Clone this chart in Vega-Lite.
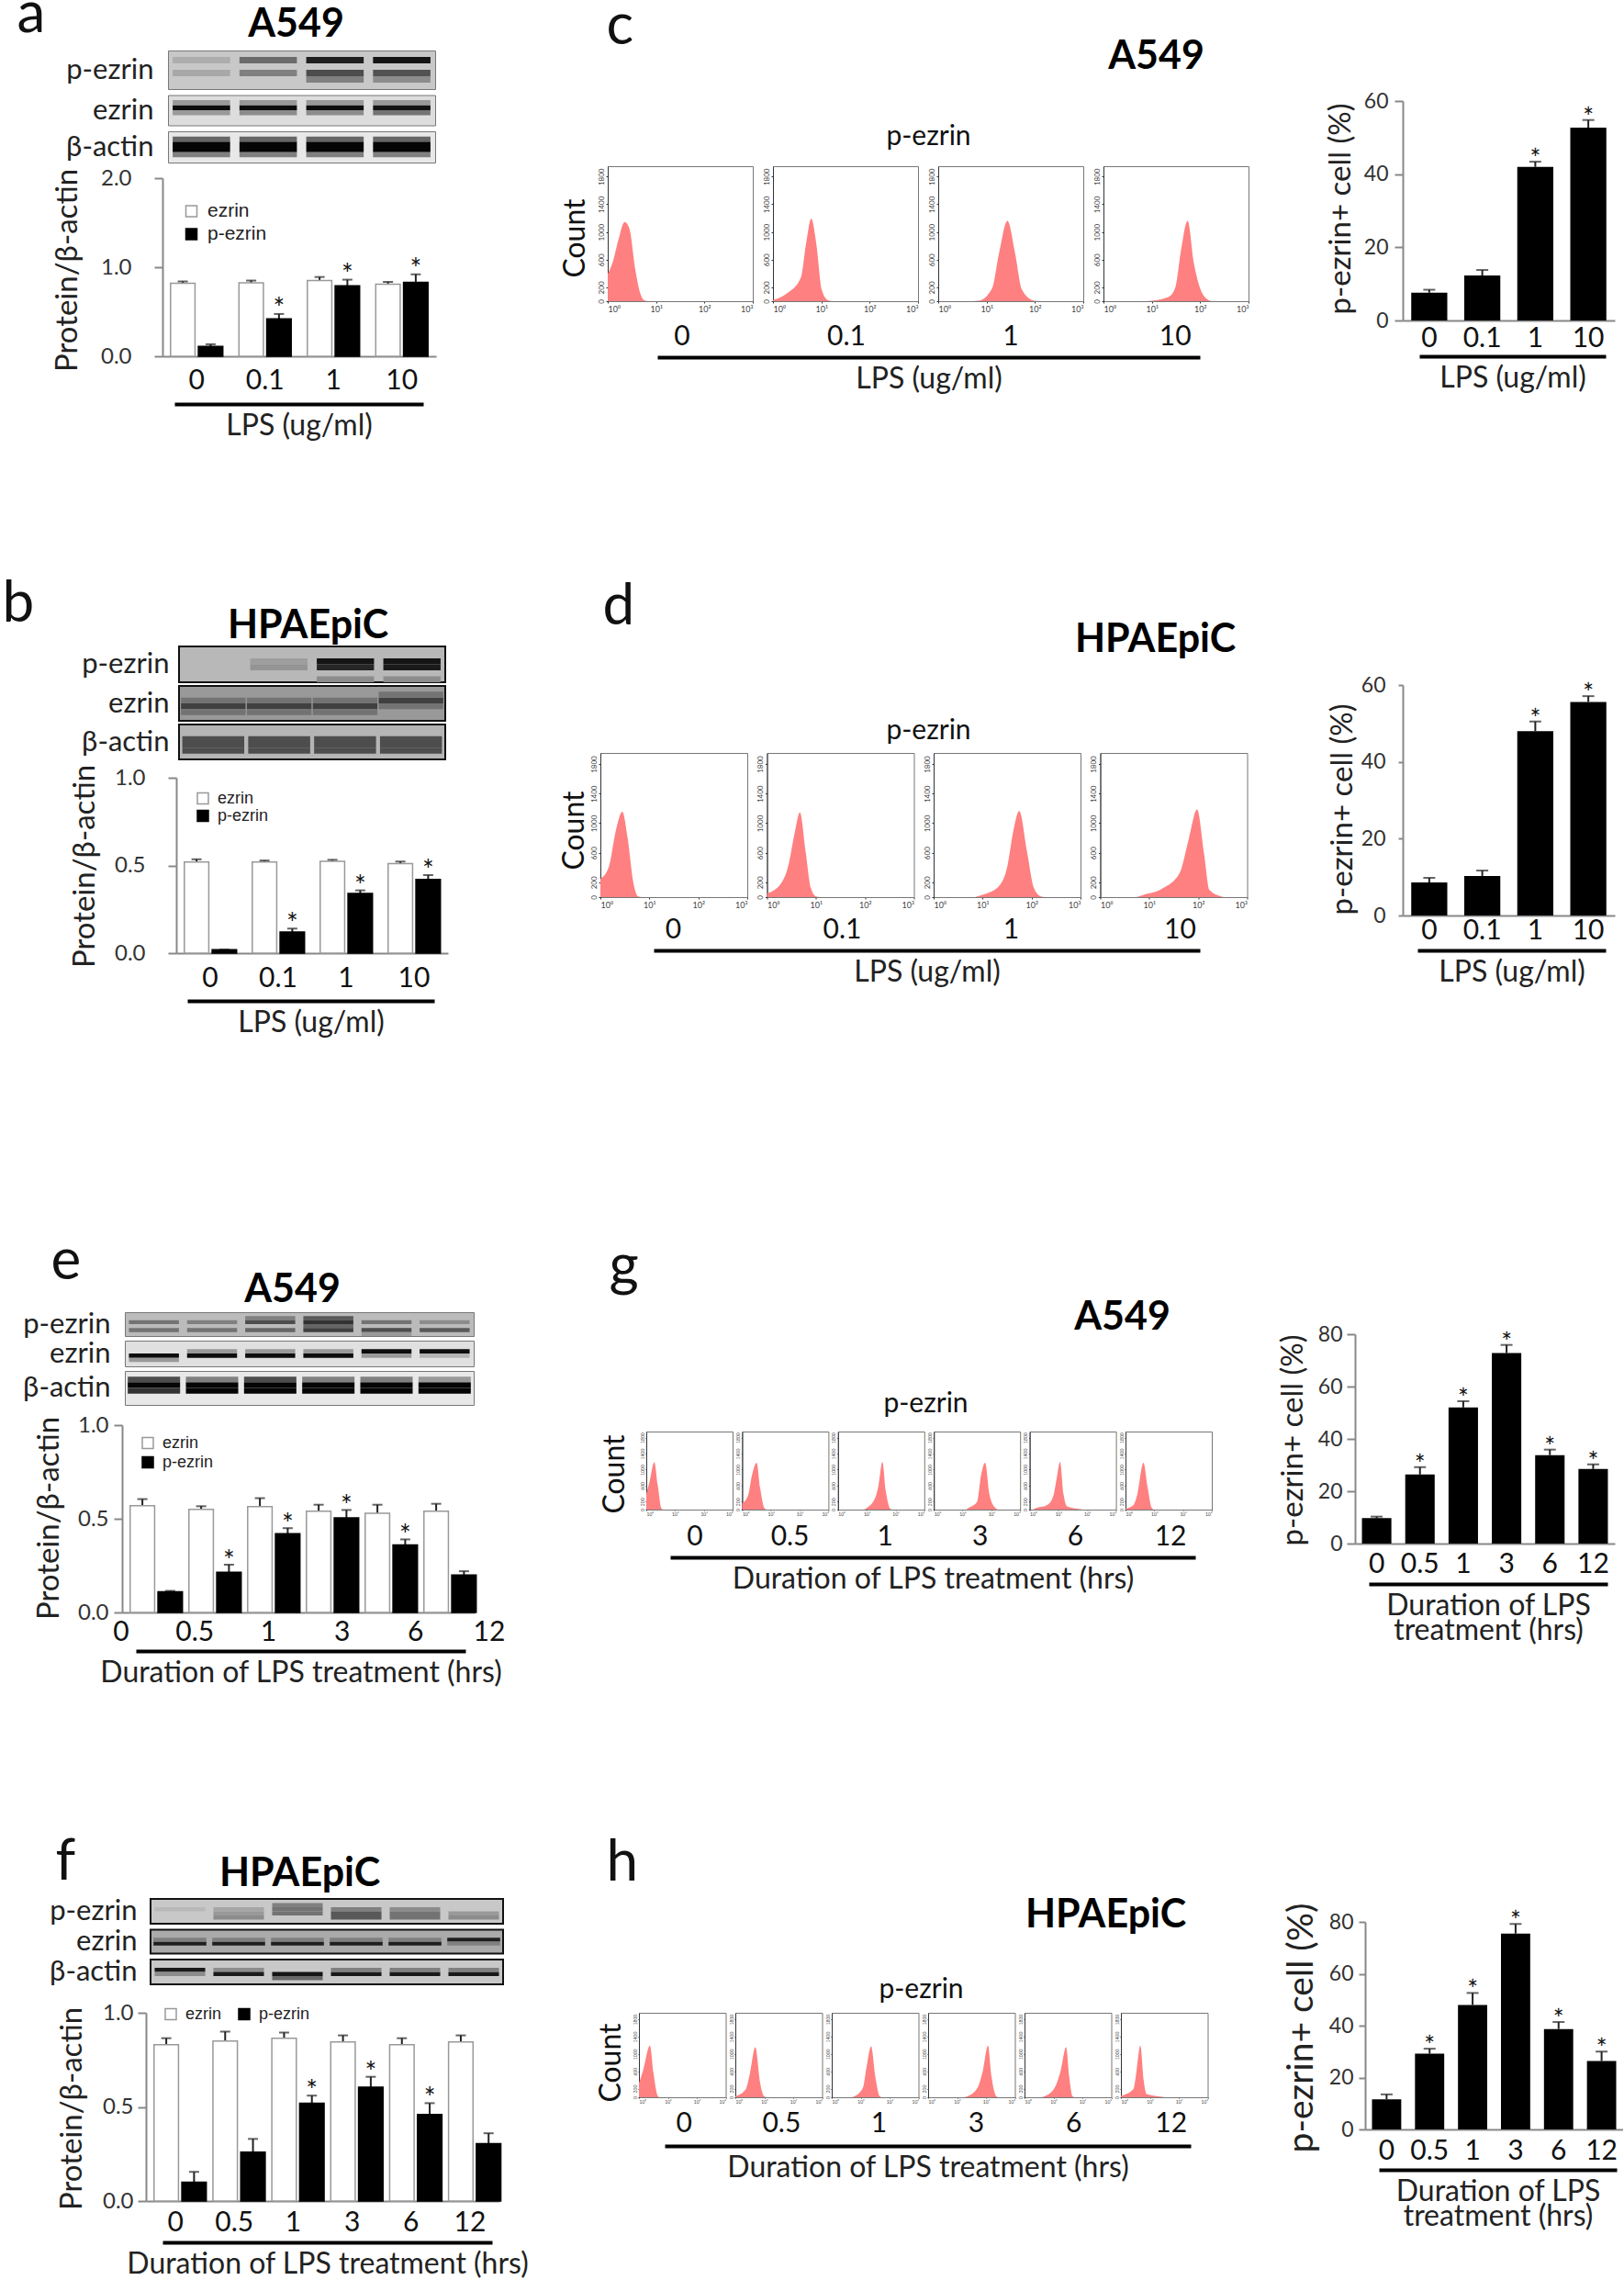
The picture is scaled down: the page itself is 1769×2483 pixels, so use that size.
{"$schema":"https://vega.github.io/schema/vega-lite/v6.json","padding":{"top":-16,"left":0,"right":0,"bottom":0},"background":"white","bounds":"flush",
"resolve":{"scale":{"fill":"independent","stroke":"independent"},"legend":{"fill":"independent"}},
"config":{"concat":{"spacing":0},"view":{"stroke":null},"font":"Lato",
"scale":{"offsetBandPaddingInner":0.12,"offsetBandPaddingOuter":0.29},
"axis":{"grid":false,"labelFont":"Lato","titleFont":"Lato","titleFontWeight":"normal"},
"axisY":{"domainColor":"#888","domainWidth":2,"tickColor":"#888","tickWidth":2,"tickSize":9,"labelFontSize":24,"labelColor":"#333","titleFontSize":33,"titleColor":"#222","titleBaseline":"middle"},
"axisXBand":{"ticks":false,"domainColor":"#888","domainWidth":2,"labelFontSize":30,"labelColor":"#111","labelAngle":0},
"axisXPoint":{"labels":false,"ticks":false,"domainColor":"#000","domainWidth":4,"titleFontSize":32,"titleColor":"#222","titlePadding":8,"titleLineHeight":27},
"axisYBand":{"labels":false,"ticks":false,"domain":false,"titleAngle":0,"titleAlign":"right","titleBaseline":"middle","titleFontSize":31,"titleColor":"#222"},
"axisXQuantitative":{"domainColor":"#333","tickColor":"#333","tickSize":2,"labelColor":"#444"},
"legend":{"orient":"none","symbolType":"square","symbolSize":144,"symbolStrokeWidth":1.5,"symbolStrokeColor":"#666","labelFont":"Liberation Sans","labelFontSize":18,"labelColor":"#222","labelOffset":7,"padding":0},
"rule":{"color":"#222","strokeWidth":2},"tick":{"color":"#222","thickness":2},
"text":{"fontSize":30,"color":"#111","baseline":"middle"}},
"datasets":{"n":[],
"dl":[{"d":"0"},{"d":"0.1"},{"d":"1"},{"d":"10"}],
"dt":[{"d":"0"},{"d":"0.5"},{"d":"1"},{"d":"3"},{"d":"6"},{"d":"12"}],
"ba":[{"d":"0","s":"ezrin","v":0.82,"h":0.84,"k":""},{"d":"0","s":"p-ezrin","v":0.11,"h":0.135,"k":""},{"d":"0.1","s":"ezrin","v":0.825,"h":0.85,"k":""},{"d":"0.1","s":"p-ezrin","v":0.42,"h":0.475,"k":"*"},{"d":"1","s":"ezrin","v":0.85,"h":0.89,"k":""},{"d":"1","s":"p-ezrin","v":0.79,"h":0.86,"k":"*"},{"d":"10","s":"ezrin","v":0.81,"h":0.835,"k":""},{"d":"10","s":"p-ezrin","v":0.83,"h":0.92,"k":"*"}],
"bb":[{"d":"0","s":"ezrin","v":0.52,"h":0.535,"k":""},{"d":"0","s":"p-ezrin","v":0.02,"h":0.02,"k":""},{"d":"0.1","s":"ezrin","v":0.52,"h":0.528,"k":""},{"d":"0.1","s":"p-ezrin","v":0.12,"h":0.14,"k":"*"},{"d":"1","s":"ezrin","v":0.523,"h":0.532,"k":""},{"d":"1","s":"p-ezrin","v":0.34,"h":0.358,"k":"*"},{"d":"10","s":"ezrin","v":0.51,"h":0.522,"k":""},{"d":"10","s":"p-ezrin","v":0.42,"h":0.445,"k":"*"}],
"be":[{"d":"0","s":"ezrin","v":0.57,"h":0.605,"k":""},{"d":"0","s":"p-ezrin","v":0.11,"h":0.115,"k":""},{"d":"0.5","s":"ezrin","v":0.55,"h":0.567,"k":""},{"d":"0.5","s":"p-ezrin","v":0.215,"h":0.255,"k":"*"},{"d":"1","s":"ezrin","v":0.565,"h":0.61,"k":""},{"d":"1","s":"p-ezrin","v":0.42,"h":0.45,"k":"*"},{"d":"3","s":"ezrin","v":0.54,"h":0.575,"k":""},{"d":"3","s":"p-ezrin","v":0.505,"h":0.547,"k":"*"},{"d":"6","s":"ezrin","v":0.53,"h":0.575,"k":""},{"d":"6","s":"p-ezrin","v":0.36,"h":0.39,"k":"*"},{"d":"12","s":"ezrin","v":0.54,"h":0.58,"k":""},{"d":"12","s":"p-ezrin","v":0.2,"h":0.22,"k":""}],
"bf":[{"d":"0","s":"ezrin","v":0.83,"h":0.865,"k":""},{"d":"0","s":"p-ezrin","v":0.1,"h":0.155,"k":""},{"d":"0.5","s":"ezrin","v":0.85,"h":0.9,"k":""},{"d":"0.5","s":"p-ezrin","v":0.26,"h":0.33,"k":""},{"d":"1","s":"ezrin","v":0.865,"h":0.895,"k":""},{"d":"1","s":"p-ezrin","v":0.52,"h":0.56,"k":"*"},{"d":"3","s":"ezrin","v":0.845,"h":0.88,"k":""},{"d":"3","s":"p-ezrin","v":0.605,"h":0.66,"k":"*"},{"d":"6","s":"ezrin","v":0.83,"h":0.865,"k":""},{"d":"6","s":"p-ezrin","v":0.46,"h":0.52,"k":"*"},{"d":"12","s":"ezrin","v":0.845,"h":0.88,"k":""},{"d":"12","s":"p-ezrin","v":0.305,"h":0.36,"k":""}],
"bc":[{"d":"0","v":7.6,"h":8.4,"k":""},{"d":"0.1","v":12.3,"h":13.8,"k":""},{"d":"1","v":42,"h":43.4,"k":"*"},{"d":"10","v":52.7,"h":54.8,"k":"*"}],
"bd":[{"d":"0","v":8.6,"h":9.8,"k":""},{"d":"0.1","v":10.3,"h":11.7,"k":""},{"d":"1","v":48,"h":50.5,"k":"*"},{"d":"10","v":55.6,"h":57.1,"k":"*"}],
"bg":[{"d":"0","v":9.7,"h":10.3,"k":""},{"d":"0.5","v":26.4,"h":29.2,"k":"*"},{"d":"1","v":52,"h":54.4,"k":"*"},{"d":"3","v":72.8,"h":75.9,"k":"*"},{"d":"6","v":33.8,"h":35.9,"k":"*"},{"d":"12","v":28.5,"h":30.3,"k":"*"}],
"bh":[{"d":"0","v":11.6,"h":13.5,"k":""},{"d":"0.5","v":29.2,"h":31.1,"k":"*"},{"d":"1","v":48,"h":52.6,"k":"*"},{"d":"3","v":75.5,"h":79.2,"k":"*"},{"d":"6","v":38.7,"h":41.4,"k":"*"},{"d":"12","v":26.4,"h":30,"k":"*"}],
"hc":[{"d":"0","x":1,"y":395},{"d":"0","x":1.25,"y":550},{"d":"0","x":1.67,"y":893},{"d":"0","x":2.24,"y":1143},{"d":"0","x":2.8,"y":1050},{"d":"0","x":3.75,"y":440},{"d":"0","x":4.68,"y":120},{"d":"0","x":5.8,"y":10},{"d":"0","x":7,"y":0},{"d":"0.1","x":1,"y":15},{"d":"0.1","x":2,"y":118},{"d":"0.1","x":3.8,"y":345},{"d":"0.1","x":4.8,"y":820},{"d":"0.1","x":6.2,"y":1195},{"d":"0.1","x":7.9,"y":820},{"d":"0.1","x":10.2,"y":165},{"d":"0.1","x":14,"y":10},{"d":"0.1","x":17,"y":0},{"d":"1","x":5,"y":0},{"d":"1","x":6.8,"y":5},{"d":"1","x":13,"y":185},{"d":"1","x":18,"y":685},{"d":"1","x":27,"y":1160},{"d":"1","x":39,"y":685},{"d":"1","x":54,"y":165},{"d":"1","x":93,"y":10},{"d":"1","x":120,"y":0},{"d":"10","x":8,"y":0},{"d":"10","x":10,"y":5},{"d":"10","x":22,"y":60},{"d":"10","x":31,"y":210},{"d":"10","x":40,"y":730},{"d":"10","x":55,"y":1160},{"d":"10","x":74,"y":550},{"d":"10","x":95,"y":230},{"d":"10","x":141,"y":25},{"d":"10","x":170,"y":0}],
"hd":[{"d":"0","x":1,"y":245},{"d":"0","x":1.5,"y":415},{"d":"0","x":2.1,"y":920},{"d":"0","x":2.8,"y":1156},{"d":"0","x":3.6,"y":800},{"d":"0","x":4.7,"y":200},{"d":"0","x":5.9,"y":10},{"d":"0","x":7,"y":0},{"d":"0.1","x":1,"y":50},{"d":"0.1","x":2,"y":200},{"d":"0.1","x":2.7,"y":415},{"d":"0.1","x":3.7,"y":880},{"d":"0.1","x":4.7,"y":1145},{"d":"0.1","x":6.1,"y":630},{"d":"0.1","x":7.9,"y":120},{"d":"0.1","x":10,"y":10},{"d":"0.1","x":12,"y":0},{"d":"1","x":7,"y":0},{"d":"1","x":9.3,"y":25},{"d":"1","x":21,"y":140},{"d":"1","x":32,"y":415},{"d":"1","x":42,"y":880},{"d":"1","x":56,"y":1165},{"d":"1","x":80,"y":630},{"d":"1","x":112,"y":120},{"d":"1","x":155,"y":10},{"d":"1","x":190,"y":0},{"d":"10","x":5.5,"y":0},{"d":"10","x":7.2,"y":25},{"d":"10","x":19,"y":120},{"d":"10","x":42,"y":330},{"d":"10","x":65,"y":800},{"d":"10","x":95,"y":1185},{"d":"10","x":132,"y":585},{"d":"10","x":170,"y":95},{"d":"10","x":295,"y":10},{"d":"10","x":350,"y":0}],
"hg":[{"d":"0","x":1,"y":390},{"d":"0","x":1.3,"y":700},{"d":"0","x":1.9,"y":1190},{"d":"0","x":2.5,"y":620},{"d":"0","x":3.3,"y":40},{"d":"0","x":3.8,"y":0},{"d":"0.5","x":1,"y":155},{"d":"0.5","x":1.6,"y":350},{"d":"0.5","x":2.2,"y":860},{"d":"0.5","x":3.2,"y":1170},{"d":"0.5","x":4.2,"y":550},{"d":"0.5","x":5.9,"y":40},{"d":"0.5","x":7,"y":0},{"d":"1","x":8,"y":0},{"d":"1","x":10,"y":40},{"d":"1","x":20,"y":310},{"d":"1","x":26,"y":620},{"d":"1","x":35,"y":1195},{"d":"1","x":46,"y":470},{"d":"1","x":63,"y":40},{"d":"1","x":75,"y":0},{"d":"3","x":13,"y":0},{"d":"3","x":16,"y":40},{"d":"3","x":32,"y":195},{"d":"3","x":44,"y":860},{"d":"3","x":61,"y":1170},{"d":"3","x":85,"y":390},{"d":"3","x":138,"y":40},{"d":"3","x":165,"y":0},{"d":"6","x":1.3,"y":0},{"d":"6","x":1.5,"y":25},{"d":"6","x":4.1,"y":115},{"d":"6","x":6.7,"y":350},{"d":"6","x":8.7,"y":780},{"d":"6","x":11.4,"y":1195},{"d":"6","x":15,"y":390},{"d":"6","x":20,"y":80},{"d":"6","x":57,"y":10},{"d":"6","x":70,"y":0},{"d":"12","x":1,"y":25},{"d":"12","x":1.9,"y":115},{"d":"12","x":2.6,"y":390},{"d":"12","x":4.2,"y":1170},{"d":"12","x":5.9,"y":550},{"d":"12","x":8.2,"y":40},{"d":"12","x":10,"y":0}],
"hh":[{"d":"0","x":1,"y":330},{"d":"0","x":1.4,"y":625},{"d":"0","x":2.4,"y":1190},{"d":"0","x":3.2,"y":550},{"d":"0","x":4.4,"y":40},{"d":"0","x":5,"y":0},{"d":"0.5","x":1,"y":20},{"d":"0.5","x":2.3,"y":185},{"d":"0.5","x":3.2,"y":550},{"d":"0.5","x":4.9,"y":1155},{"d":"0.5","x":7.2,"y":330},{"d":"0.5","x":10,"y":20},{"d":"0.5","x":12,"y":0},{"d":"1","x":5,"y":0},{"d":"1","x":6.1,"y":20},{"d":"1","x":12,"y":220},{"d":"1","x":16,"y":700},{"d":"1","x":23,"y":1175},{"d":"1","x":32,"y":480},{"d":"1","x":46,"y":20},{"d":"1","x":55,"y":0},{"d":"3","x":18,"y":0},{"d":"3","x":23,"y":20},{"d":"3","x":51,"y":220},{"d":"3","x":79,"y":625},{"d":"3","x":117,"y":1190},{"d":"3","x":155,"y":480},{"d":"3","x":229,"y":20},{"d":"3","x":270,"y":0},{"d":"6","x":4,"y":0},{"d":"6","x":4.9,"y":20},{"d":"6","x":11,"y":220},{"d":"6","x":18,"y":625},{"d":"6","x":27.5,"y":1155},{"d":"6","x":35,"y":480},{"d":"6","x":46,"y":20},{"d":"6","x":55,"y":0},{"d":"12","x":1,"y":35},{"d":"12","x":2.7,"y":185},{"d":"12","x":3.5,"y":625},{"d":"12","x":4.7,"y":1190},{"d":"12","x":6.1,"y":400},{"d":"12","x":7.8,"y":75},{"d":"12","x":23,"y":15},{"d":"12","x":32,"y":0}],
"a1":[{"l":"0","r":2,"v":0.68},{"l":"0","r":4,"v":0.66},{"l":"0.1","r":2,"v":0.42},{"l":"0.1","r":4,"v":0.5},{"l":"1","r":2,"v":0.12},{"l":"1","r":4,"v":0.3},{"l":"1","r":5,"v":0.5},{"l":"10","r":2,"v":0.08},{"l":"10","r":4,"v":0.32},{"l":"10","r":5,"v":0.55}],
"a2":[{"l":"0","r":3,"v":0.05},{"l":"0","r":2,"v":0.6},{"l":"0","r":4,"v":0.6},{"l":"0.1","r":3,"v":0.05},{"l":"0.1","r":2,"v":0.6},{"l":"0.1","r":4,"v":0.55},{"l":"1","r":3,"v":0.05},{"l":"1","r":2,"v":0.6},{"l":"1","r":4,"v":0.55},{"l":"10","r":3,"v":0.08},{"l":"10","r":2,"v":0.6},{"l":"10","r":4,"v":0.45}],
"a3":[{"l":"0","r":3,"v":0.02},{"l":"0","r":4,"v":0.02},{"l":"0","r":2,"v":0.4},{"l":"0","r":5,"v":0.5},{"l":"0.1","r":3,"v":0.02},{"l":"0.1","r":4,"v":0.02},{"l":"0.1","r":2,"v":0.4},{"l":"0.1","r":5,"v":0.5},{"l":"1","r":3,"v":0.02},{"l":"1","r":4,"v":0.02},{"l":"1","r":2,"v":0.4},{"l":"1","r":5,"v":0.5},{"l":"10","r":3,"v":0.02},{"l":"10","r":4,"v":0.02},{"l":"10","r":2,"v":0.4},{"l":"10","r":5,"v":0.5}],
"b1":[{"l":"0","r":3,"v":0.72},{"l":"0.1","r":3,"v":0.62},{"l":"0.1","r":4,"v":0.58},{"l":"1","r":3,"v":0.08},{"l":"1","r":4,"v":0.15},{"l":"1","r":6,"v":0.55},{"l":"10","r":3,"v":0.08},{"l":"10","r":4,"v":0.1},{"l":"10","r":6,"v":0.55}],
"b2":[{"l":"0","r":4,"v":0.25},{"l":"0","r":3,"v":0.45},{"l":"0","r":5,"v":0.45},{"l":"0.1","r":4,"v":0.25},{"l":"0.1","r":3,"v":0.45},{"l":"0.1","r":5,"v":0.45},{"l":"1","r":4,"v":0.25},{"l":"1","r":3,"v":0.45},{"l":"1","r":5,"v":0.45},{"l":"10","r":3,"v":0.25},{"l":"10","r":2,"v":0.45},{"l":"10","r":4,"v":0.45}],
"b3":[{"l":"0","r":3,"v":0.3},{"l":"0","r":4,"v":0.3},{"l":"0","r":5,"v":0.3},{"l":"0.1","r":3,"v":0.3},{"l":"0.1","r":4,"v":0.3},{"l":"0.1","r":5,"v":0.3},{"l":"1","r":3,"v":0.3},{"l":"1","r":4,"v":0.3},{"l":"1","r":5,"v":0.3},{"l":"10","r":3,"v":0.3},{"l":"10","r":4,"v":0.3},{"l":"10","r":5,"v":0.3}],
"e1":[{"l":"0","r":3,"v":0.45},{"l":"0","r":5,"v":0.45},{"l":"0.5","r":3,"v":0.5},{"l":"0.5","r":5,"v":0.45},{"l":"1","r":2,"v":0.5},{"l":"1","r":3,"v":0.3},{"l":"1","r":5,"v":0.4},{"l":"3","r":2,"v":0.35},{"l":"3","r":3,"v":0.2},{"l":"3","r":4,"v":0.4},{"l":"3","r":5,"v":0.25},{"l":"6","r":3,"v":0.45},{"l":"6","r":5,"v":0.3},{"l":"6","r":6,"v":0.6},{"l":"12","r":3,"v":0.55},{"l":"12","r":5,"v":0.35}],
"e2":[{"l":"0","r":4,"v":0.05},{"l":"0","r":5,"v":0.6},{"l":"0.5","r":4,"v":0.05},{"l":"0.5","r":3,"v":0.6},{"l":"1","r":4,"v":0.05},{"l":"1","r":3,"v":0.6},{"l":"3","r":4,"v":0.05},{"l":"3","r":3,"v":0.6},{"l":"6","r":3,"v":0.05},{"l":"6","r":4,"v":0.6},{"l":"12","r":3,"v":0.05},{"l":"12","r":4,"v":0.7}],
"e3":[{"l":"0","r":3,"v":0.02},{"l":"0","r":2,"v":0.3},{"l":"0","r":4,"v":0.2},{"l":"0.5","r":3,"v":0.02},{"l":"0.5","r":4,"v":0.02},{"l":"0.5","r":2,"v":0.5},{"l":"1","r":3,"v":0.02},{"l":"1","r":4,"v":0.02},{"l":"1","r":2,"v":0.3},{"l":"3","r":3,"v":0.02},{"l":"3","r":4,"v":0.02},{"l":"3","r":2,"v":0.5},{"l":"6","r":3,"v":0.02},{"l":"6","r":4,"v":0.02},{"l":"6","r":2,"v":0.5},{"l":"12","r":3,"v":0.02},{"l":"12","r":4,"v":0.02},{"l":"12","r":2,"v":0.6}],
"f1":[{"l":"0","r":3,"v":0.72},{"l":"0.5","r":3,"v":0.65},{"l":"0.5","r":4,"v":0.6},{"l":"0.5","r":5,"v":0.55},{"l":"1","r":2,"v":0.5},{"l":"1","r":3,"v":0.45},{"l":"1","r":4,"v":0.45},{"l":"3","r":3,"v":0.5},{"l":"3","r":4,"v":0.35},{"l":"3","r":5,"v":0.35},{"l":"6","r":3,"v":0.55},{"l":"6","r":4,"v":0.45},{"l":"6","r":5,"v":0.45},{"l":"12","r":4,"v":0.6},{"l":"12","r":5,"v":0.55}],
"f2":[{"l":"0","r":4,"v":0.12},{"l":"0","r":3,"v":0.5},{"l":"0.5","r":4,"v":0.12},{"l":"0.5","r":3,"v":0.5},{"l":"1","r":4,"v":0.12},{"l":"1","r":3,"v":0.5},{"l":"3","r":4,"v":0.12},{"l":"3","r":3,"v":0.5},{"l":"6","r":4,"v":0.12},{"l":"6","r":3,"v":0.5},{"l":"12","r":3,"v":0.12},{"l":"12","r":4,"v":0.5}],
"f3":[{"l":"0","r":3,"v":0.1},{"l":"0","r":4,"v":0.55},{"l":"0.5","r":3,"v":0.55},{"l":"0.5","r":4,"v":0.1},{"l":"1","r":4,"v":0.08},{"l":"1","r":5,"v":0.4},{"l":"3","r":4,"v":0.1},{"l":"3","r":3,"v":0.5},{"l":"6","r":4,"v":0.1},{"l":"6","r":3,"v":0.5},{"l":"12","r":4,"v":0.1},{"l":"12","r":3,"v":0.5}]
},
"hconcat":[
{"bounds":"flush","vconcat":[{"width":1,"height":33,"data":{"name":"n"},"mark":"point"},{"bounds":"flush","hconcat":[{"width":18,"height":1,"data":{"name":"n"},"mark":"point"},{"width":1,"height":1,"data":{"values":[{"t":"a"}]},"mark":{"type":"text","align":"left","baseline":"alphabetic","fontSize":62},"encoding":{"text":{"field":"t"}}}]}]},
{"bounds":"flush","vconcat":[{"width":1,"height":675,"data":{"name":"n"},"mark":"point"},{"bounds":"flush","hconcat":[{"width":2,"height":1,"data":{"name":"n"},"mark":"point"},{"width":1,"height":1,"data":{"values":[{"t":"b"}]},"mark":{"type":"text","align":"left","baseline":"alphabetic","fontSize":62},"encoding":{"text":{"field":"t"}}}]}]},
{"bounds":"flush","vconcat":[{"width":1,"height":46,"data":{"name":"n"},"mark":"point"},{"bounds":"flush","hconcat":[{"width":660,"height":1,"data":{"name":"n"},"mark":"point"},{"width":1,"height":1,"data":{"values":[{"t":"c"}]},"mark":{"type":"text","align":"left","baseline":"alphabetic","fontSize":62},"encoding":{"text":{"field":"t"}}}]}]},
{"bounds":"flush","vconcat":[{"width":1,"height":678,"data":{"name":"n"},"mark":"point"},{"bounds":"flush","hconcat":[{"width":656,"height":1,"data":{"name":"n"},"mark":"point"},{"width":1,"height":1,"data":{"values":[{"t":"d"}]},"mark":{"type":"text","align":"left","baseline":"alphabetic","fontSize":62},"encoding":{"text":{"field":"t"}}}]}]},
{"bounds":"flush","vconcat":[{"width":1,"height":1391,"data":{"name":"n"},"mark":"point"},{"bounds":"flush","hconcat":[{"width":55,"height":1,"data":{"name":"n"},"mark":"point"},{"width":1,"height":1,"data":{"values":[{"t":"e"}]},"mark":{"type":"text","align":"left","baseline":"alphabetic","fontSize":62},"encoding":{"text":{"field":"t"}}}]}]},
{"bounds":"flush","vconcat":[{"width":1,"height":2045,"data":{"name":"n"},"mark":"point"},{"bounds":"flush","hconcat":[{"width":60,"height":1,"data":{"name":"n"},"mark":"point"},{"width":1,"height":1,"data":{"values":[{"t":"f"}]},"mark":{"type":"text","align":"left","baseline":"alphabetic","fontSize":62},"encoding":{"text":{"field":"t"}}}]}]},
{"bounds":"flush","vconcat":[{"width":1,"height":1397,"data":{"name":"n"},"mark":"point"},{"bounds":"flush","hconcat":[{"width":663,"height":1,"data":{"name":"n"},"mark":"point"},{"width":1,"height":1,"data":{"values":[{"t":"g"}]},"mark":{"type":"text","align":"left","baseline":"alphabetic","fontSize":62},"encoding":{"text":{"field":"t"}}}]}]},
{"bounds":"flush","vconcat":[{"width":1,"height":2046,"data":{"name":"n"},"mark":"point"},{"bounds":"flush","hconcat":[{"width":660,"height":1,"data":{"name":"n"},"mark":"point"},{"width":1,"height":1,"data":{"values":[{"t":"h"}]},"mark":{"type":"text","align":"left","baseline":"alphabetic","fontSize":62},"encoding":{"text":{"field":"t"}}}]}]},

{"bounds":"flush","vconcat":[{"width":1,"height":38,"data":{"name":"n"},"mark":"point"},{"bounds":"flush","hconcat":[{"width":322,"height":1,"data":{"name":"n"},"mark":"point"},{"width":1,"height":1,"data":{"values":[{"t":"A549"}]},"mark":{"type":"text","baseline":"alphabetic","fontSize":43,"fontWeight":"bold","color":"#000"},"encoding":{"text":{"field":"t"}}}]}]},
{"bounds":"flush","vconcat":[{"width":1,"height":693,"data":{"name":"n"},"mark":"point"},{"bounds":"flush","hconcat":[{"width":335,"height":1,"data":{"name":"n"},"mark":"point"},{"width":1,"height":1,"data":{"values":[{"t":"HPAEpiC"}]},"mark":{"type":"text","baseline":"alphabetic","fontSize":43,"fontWeight":"bold","color":"#000"},"encoding":{"text":{"field":"t"}}}]}]},
{"bounds":"flush","vconcat":[{"width":1,"height":73,"data":{"name":"n"},"mark":"point"},{"bounds":"flush","hconcat":[{"width":1259,"height":1,"data":{"name":"n"},"mark":"point"},{"width":1,"height":1,"data":{"values":[{"t":"A549"}]},"mark":{"type":"text","baseline":"alphabetic","fontSize":43,"fontWeight":"bold","color":"#000"},"encoding":{"text":{"field":"t"}}}]}]},
{"bounds":"flush","vconcat":[{"width":1,"height":708,"data":{"name":"n"},"mark":"point"},{"bounds":"flush","hconcat":[{"width":1258,"height":1,"data":{"name":"n"},"mark":"point"},{"width":1,"height":1,"data":{"values":[{"t":"HPAEpiC"}]},"mark":{"type":"text","baseline":"alphabetic","fontSize":43,"fontWeight":"bold","color":"#000"},"encoding":{"text":{"field":"t"}}}]}]},
{"bounds":"flush","vconcat":[{"width":1,"height":1416,"data":{"name":"n"},"mark":"point"},{"bounds":"flush","hconcat":[{"width":318,"height":1,"data":{"name":"n"},"mark":"point"},{"width":1,"height":1,"data":{"values":[{"t":"A549"}]},"mark":{"type":"text","baseline":"alphabetic","fontSize":43,"fontWeight":"bold","color":"#000"},"encoding":{"text":{"field":"t"}}}]}]},
{"bounds":"flush","vconcat":[{"width":1,"height":2052,"data":{"name":"n"},"mark":"point"},{"bounds":"flush","hconcat":[{"width":326,"height":1,"data":{"name":"n"},"mark":"point"},{"width":1,"height":1,"data":{"values":[{"t":"HPAEpiC"}]},"mark":{"type":"text","baseline":"alphabetic","fontSize":43,"fontWeight":"bold","color":"#000"},"encoding":{"text":{"field":"t"}}}]}]},
{"bounds":"flush","vconcat":[{"width":1,"height":1446,"data":{"name":"n"},"mark":"point"},{"bounds":"flush","hconcat":[{"width":1222,"height":1,"data":{"name":"n"},"mark":"point"},{"width":1,"height":1,"data":{"values":[{"t":"A549"}]},"mark":{"type":"text","baseline":"alphabetic","fontSize":43,"fontWeight":"bold","color":"#000"},"encoding":{"text":{"field":"t"}}}]}]},
{"bounds":"flush","vconcat":[{"width":1,"height":2097,"data":{"name":"n"},"mark":"point"},{"bounds":"flush","hconcat":[{"width":1204,"height":1,"data":{"name":"n"},"mark":"point"},{"width":1,"height":1,"data":{"values":[{"t":"HPAEpiC"}]},"mark":{"type":"text","baseline":"alphabetic","fontSize":43,"fontWeight":"bold","color":"#000"},"encoding":{"text":{"field":"t"}}}]}]},

{"bounds":"flush","vconcat":[{"width":1,"height":147,"data":{"name":"n"},"mark":"point"},{"bounds":"flush","hconcat":[{"width":1011,"height":1,"data":{"name":"n"},"mark":"point"},{"width":1,"height":1,"data":{"values":[{"t":"p-ezrin"}]},"mark":{"type":"text"},"encoding":{"text":{"field":"t"}}}]}]},
{"bounds":"flush","vconcat":[{"width":1,"height":794,"data":{"name":"n"},"mark":"point"},{"bounds":"flush","hconcat":[{"width":1011,"height":1,"data":{"name":"n"},"mark":"point"},{"width":1,"height":1,"data":{"values":[{"t":"p-ezrin"}]},"mark":{"type":"text"},"encoding":{"text":{"field":"t"}}}]}]},
{"bounds":"flush","vconcat":[{"width":1,"height":1527,"data":{"name":"n"},"mark":"point"},{"bounds":"flush","hconcat":[{"width":1008,"height":1,"data":{"name":"n"},"mark":"point"},{"width":1,"height":1,"data":{"values":[{"t":"p-ezrin"}]},"mark":{"type":"text"},"encoding":{"text":{"field":"t"}}}]}]},
{"bounds":"flush","vconcat":[{"width":1,"height":2165,"data":{"name":"n"},"mark":"point"},{"bounds":"flush","hconcat":[{"width":1003,"height":1,"data":{"name":"n"},"mark":"point"},{"width":1,"height":1,"data":{"values":[{"t":"p-ezrin"}]},"mark":{"type":"text"},"encoding":{"text":{"field":"t"}}}]}]},
{"bounds":"flush","vconcat":[{"width":1,"height":258,"data":{"name":"n"},"mark":"point"},{"bounds":"flush","hconcat":[{"width":626,"height":1,"data":{"name":"n"},"mark":"point"},{"width":1,"height":1,"data":{"values":[{"t":"Count"}]},"mark":{"type":"text","angle":270,"fontSize":32},"encoding":{"text":{"field":"t"}}}]}]},
{"bounds":"flush","vconcat":[{"width":1,"height":903,"data":{"name":"n"},"mark":"point"},{"bounds":"flush","hconcat":[{"width":625,"height":1,"data":{"name":"n"},"mark":"point"},{"width":1,"height":1,"data":{"values":[{"t":"Count"}]},"mark":{"type":"text","angle":270,"fontSize":32},"encoding":{"text":{"field":"t"}}}]}]},
{"bounds":"flush","vconcat":[{"width":1,"height":1604,"data":{"name":"n"},"mark":"point"},{"bounds":"flush","hconcat":[{"width":669,"height":1,"data":{"name":"n"},"mark":"point"},{"width":1,"height":1,"data":{"values":[{"t":"Count"}]},"mark":{"type":"text","angle":270,"fontSize":32},"encoding":{"text":{"field":"t"}}}]}]},
{"bounds":"flush","vconcat":[{"width":1,"height":2245,"data":{"name":"n"},"mark":"point"},{"bounds":"flush","hconcat":[{"width":665,"height":1,"data":{"name":"n"},"mark":"point"},{"width":1,"height":1,"data":{"values":[{"t":"Count"}]},"mark":{"type":"text","angle":270,"fontSize":32},"encoding":{"text":{"field":"t"}}}]}]},

{"bounds":"flush","vconcat":[{"width":1,"height":54,"data":{"name":"n"},"mark":"point"},{"bounds":"flush","hconcat":[{"width":183,"height":1,"data":{"name":"n"},"mark":"point"},{"bounds":"flush","spacing":6.5,"vconcat":[
{"width":291,"height":42,"data":{"name":"a1"},"view":{"fill":"#c8c8c8","stroke":"#777"},"mark":"rect","encoding":{"x":{"field":"l","type":"nominal","sort":null,"axis":null,"scale":{"paddingInner":0.14,"paddingOuter":0.07}},"y":{"field":"r","type":"ordinal","scale":{"domain":[1,2,3,4,5,6]},"axis":{"title":"p-ezrin","titlePadding":16}},"color":{"field":"v","type":"quantitative","scale":{"domain":[0,1],"range":["#000","#fff"],"interpolate":"rgb"},"legend":null}}},
{"width":291,"height":33,"data":{"name":"a2"},"view":{"fill":"#ddd","stroke":"#777"},"mark":"rect","encoding":{"x":{"field":"l","type":"nominal","sort":null,"axis":null,"scale":{"paddingInner":0.14,"paddingOuter":0.07}},"y":{"field":"r","type":"ordinal","scale":{"domain":[1,2,3,4,5,6]},"axis":{"title":"ezrin","titlePadding":16}},"color":{"field":"v","type":"quantitative","scale":{"domain":[0,1],"range":["#000","#fff"],"interpolate":"rgb"},"legend":null}}},
{"width":291,"height":34,"data":{"name":"a3"},"view":{"fill":"#e8e8e8","stroke":"#777"},"mark":"rect","encoding":{"x":{"field":"l","type":"nominal","sort":null,"axis":null,"scale":{"paddingInner":0.14,"paddingOuter":0.07}},"y":{"field":"r","type":"ordinal","scale":{"domain":[1,2,3,4,5,6]},"axis":{"title":"β-actin","titlePadding":16}},"color":{"field":"v","type":"quantitative","scale":{"domain":[0,1],"range":["#000","#fff"],"interpolate":"rgb"},"legend":null}}}
]}]}]},
{"bounds":"flush","vconcat":[{"width":1,"height":703,"data":{"name":"n"},"mark":"point"},{"bounds":"flush","hconcat":[{"width":195,"height":1,"data":{"name":"n"},"mark":"point"},{"bounds":"flush","spacing":4,"vconcat":[
{"width":290,"height":39,"data":{"name":"b1"},"view":{"fill":"#b8b8b8","stroke":"#111","strokeWidth":2},"mark":"rect","encoding":{"x":{"field":"l","type":"nominal","sort":null,"axis":null,"scale":{"paddingInner":0.14,"paddingOuter":0.07}},"y":{"field":"r","type":"ordinal","scale":{"domain":[1,2,3,4,5,6]},"axis":{"title":"p-ezrin","titlePadding":11}},"color":{"field":"v","type":"quantitative","scale":{"domain":[0,1],"range":["#000","#fff"],"interpolate":"rgb"},"legend":null}}},
{"width":290,"height":38,"data":{"name":"b2"},"view":{"fill":"#999","stroke":"#111","strokeWidth":2},"mark":"rect","encoding":{"x":{"field":"l","type":"nominal","sort":null,"axis":null,"scale":{"paddingInner":0.02,"paddingOuter":0.03}},"y":{"field":"r","type":"ordinal","scale":{"domain":[1,2,3,4,5,6]},"axis":{"title":"ezrin","titlePadding":11}},"color":{"field":"v","type":"quantitative","scale":{"domain":[0,1],"range":["#000","#fff"],"interpolate":"rgb"},"legend":null}}},
{"width":290,"height":38,"data":{"name":"b3"},"view":{"fill":"#b5b5b5","stroke":"#111","strokeWidth":2},"mark":"rect","encoding":{"x":{"field":"l","type":"nominal","sort":null,"axis":null,"scale":{"paddingInner":0.06,"paddingOuter":0.05}},"y":{"field":"r","type":"ordinal","scale":{"domain":[1,2,3,4,5,6]},"axis":{"title":"β-actin","titlePadding":11}},"color":{"field":"v","type":"quantitative","scale":{"domain":[0,1],"range":["#000","#fff"],"interpolate":"rgb"},"legend":null}}}
]}]}]},
{"bounds":"flush","vconcat":[{"width":1,"height":1428,"data":{"name":"n"},"mark":"point"},{"bounds":"flush","hconcat":[{"width":136,"height":1,"data":{"name":"n"},"mark":"point"},{"bounds":"flush","spacing":5,"vconcat":[
{"width":380,"height":26,"data":{"name":"e1"},"view":{"fill":"#bbb","stroke":"#777"},"mark":"rect","encoding":{"x":{"field":"l","type":"nominal","sort":null,"axis":null,"scale":{"paddingInner":0.14,"paddingOuter":0.07}},"y":{"field":"r","type":"ordinal","scale":{"domain":[1,2,3,4,5,6]},"axis":{"title":"p-ezrin","titlePadding":16}},"color":{"field":"v","type":"quantitative","scale":{"domain":[0,1],"range":["#000","#fff"],"interpolate":"rgb"},"legend":null}}},
{"width":380,"height":28,"data":{"name":"e2"},"view":{"fill":"#e0e0e0","stroke":"#777"},"mark":"rect","encoding":{"x":{"field":"l","type":"nominal","sort":null,"axis":null,"scale":{"paddingInner":0.14,"paddingOuter":0.07}},"y":{"field":"r","type":"ordinal","scale":{"domain":[1,2,3,4,5,6]},"axis":{"title":"ezrin","titlePadding":16}},"color":{"field":"v","type":"quantitative","scale":{"domain":[0,1],"range":["#000","#fff"],"interpolate":"rgb"},"legend":null}}},
{"width":380,"height":37,"data":{"name":"e3"},"view":{"fill":"#e8e8e8","stroke":"#777"},"mark":"rect","encoding":{"x":{"field":"l","type":"nominal","sort":null,"axis":null,"scale":{"paddingInner":0.1,"paddingOuter":0.05}},"y":{"field":"r","type":"ordinal","scale":{"domain":[1,2,3,4,5,6]},"axis":{"title":"β-actin","titlePadding":16}},"color":{"field":"v","type":"quantitative","scale":{"domain":[0,1],"range":["#000","#fff"],"interpolate":"rgb"},"legend":null}}}
]}]}]},
{"bounds":"flush","vconcat":[{"width":1,"height":2067,"data":{"name":"n"},"mark":"point"},{"bounds":"flush","hconcat":[{"width":164,"height":1,"data":{"name":"n"},"mark":"point"},{"bounds":"flush","spacing":6.5,"vconcat":[
{"width":384,"height":27,"data":{"name":"f1"},"view":{"fill":"#c8c8c8","stroke":"#111","strokeWidth":2},"mark":"rect","encoding":{"x":{"field":"l","type":"nominal","sort":null,"axis":null,"scale":{"paddingInner":0.14,"paddingOuter":0.07}},"y":{"field":"r","type":"ordinal","scale":{"domain":[1,2,3,4,5,6]},"axis":{"title":"p-ezrin","titlePadding":15}},"color":{"field":"v","type":"quantitative","scale":{"domain":[0,1],"range":["#000","#fff"],"interpolate":"rgb"},"legend":null}}},
{"width":384,"height":26,"data":{"name":"f2"},"view":{"fill":"#aaa","stroke":"#111","strokeWidth":2},"mark":"rect","encoding":{"x":{"field":"l","type":"nominal","sort":null,"axis":null,"scale":{"paddingInner":0.1,"paddingOuter":0.05}},"y":{"field":"r","type":"ordinal","scale":{"domain":[1,2,3,4,5,6]},"axis":{"title":"ezrin","titlePadding":15}},"color":{"field":"v","type":"quantitative","scale":{"domain":[0,1],"range":["#000","#fff"],"interpolate":"rgb"},"legend":null}}},
{"width":384,"height":27,"data":{"name":"f3"},"view":{"fill":"#c8c8c8","stroke":"#111","strokeWidth":2},"mark":"rect","encoding":{"x":{"field":"l","type":"nominal","sort":null,"axis":null,"scale":{"paddingInner":0.14,"paddingOuter":0.07}},"y":{"field":"r","type":"ordinal","scale":{"domain":[1,2,3,4,5,6]},"axis":{"title":"β-actin","titlePadding":15}},"color":{"field":"v","type":"quantitative","scale":{"domain":[0,1],"range":["#000","#fff"],"interpolate":"rgb"},"legend":null}}}
]}]}]},

{"bounds":"flush","vconcat":[{"width":1,"height":193,"data":{"name":"n"},"mark":"point"},{"bounds":"flush","hconcat":[{"width":177,"height":1,"data":{"name":"n"},"mark":"point"},
{"width":298,"height":194,"data":{"name":"ba"},"encoding":{"x":{"field":"d","type":"nominal","sort":null,"title":null,"scale":{"paddingInner":0,"paddingOuter":0},"axis":{"labelPadding":11}},"xOffset":{"field":"s","type":"nominal","sort":null}},"layer":[
{"mark":"rule","encoding":{"y":{"field":"h","type":"quantitative"},"y2":{"field":"v"}}},
{"mark":{"type":"tick","size":11},"encoding":{"y":{"field":"h","type":"quantitative"}}},
{"mark":{"type":"bar","strokeWidth":1.5},"encoding":{"y":{"field":"v","type":"quantitative","stack":null,"scale":{"domain":[0,2]},"axis":{"values":[0,1,2],"format":".1f","title":"Protein/β-actin","titleX":-104,"titleY":100,"labelPadding":25}},"fill":{"field":"s","type":"nominal","title":null,"scale":{"domain":["ezrin","p-ezrin"],"range":["#fff","#000"]},"legend":{"legendX":198,"legendY":218.5,"direction":"vertical","rowPadding":3,"labelFontSize":21}},"stroke":{"field":"s","type":"nominal","scale":{"domain":["ezrin","p-ezrin"],"range":["#999","#000"]},"legend":null}}},
{"mark":{"type":"text","fontSize":30,"baseline":"alphabetic","dy":4},"encoding":{"y":{"field":"h","type":"quantitative"},"text":{"field":"k"}}}]}]}]},
{"bounds":"flush","vconcat":[{"width":1,"height":846,"data":{"name":"n"},"mark":"point"},{"bounds":"flush","hconcat":[{"width":192,"height":1,"data":{"name":"n"},"mark":"point"},
{"width":296,"height":191,"data":{"name":"bb"},"encoding":{"x":{"field":"d","type":"nominal","sort":null,"title":null,"scale":{"paddingInner":0,"paddingOuter":0},"axis":{"labelPadding":12}},"xOffset":{"field":"s","type":"nominal","sort":null}},"layer":[
{"mark":"rule","encoding":{"y":{"field":"h","type":"quantitative"},"y2":{"field":"v"}}},
{"mark":{"type":"tick","size":11},"encoding":{"y":{"field":"h","type":"quantitative"}}},
{"mark":{"type":"bar","strokeWidth":1.5},"encoding":{"y":{"field":"v","type":"quantitative","stack":null,"scale":{"domain":[0,1]},"axis":{"values":[0,0.5,1],"format":".1f","title":"Protein/β-actin","titleX":-100,"titleY":96,"labelPadding":25}},"fill":{"field":"s","type":"nominal","title":null,"scale":{"domain":["ezrin","p-ezrin"],"range":["#fff","#000"]},"legend":{"legendX":212,"legendY":859.5,"direction":"vertical","rowPadding":1}},"stroke":{"field":"s","type":"nominal","scale":{"domain":["ezrin","p-ezrin"],"range":["#999","#000"]},"legend":null}}},
{"mark":{"type":"text","fontSize":30,"baseline":"alphabetic","dy":5},"encoding":{"y":{"field":"h","type":"quantitative"},"text":{"field":"k"}}}]}]}]},
{"bounds":"flush","vconcat":[{"width":1,"height":1551,"data":{"name":"n"},"mark":"point"},{"bounds":"flush","hconcat":[{"width":133,"height":1,"data":{"name":"n"},"mark":"point"},
{"width":384,"height":204,"data":{"name":"be"},"encoding":{"x":{"field":"d","type":"nominal","sort":null,"title":null,"scale":{"paddingInner":0,"paddingOuter":0},"axis":{"labels":false}},"xOffset":{"field":"s","type":"nominal","sort":null}},"layer":[
{"mark":"rule","encoding":{"y":{"field":"h","type":"quantitative"},"y2":{"field":"v"}}},
{"mark":{"type":"tick","size":11},"encoding":{"y":{"field":"h","type":"quantitative"}}},
{"mark":{"type":"bar","strokeWidth":1.5},"encoding":{"y":{"field":"v","type":"quantitative","stack":null,"scale":{"domain":[0,1]},"axis":{"values":[0,0.5,1],"format":".1f","title":"Protein/β-actin","titleX":-80,"titleY":101,"labelPadding":6}},"fill":{"field":"s","type":"nominal","title":null,"scale":{"domain":["ezrin","p-ezrin"],"range":["#fff","#000"]},"legend":{"legendX":152,"legendY":1561.5,"direction":"vertical","rowPadding":3}},"stroke":{"field":"s","type":"nominal","scale":{"domain":["ezrin","p-ezrin"],"range":["#999","#000"]},"legend":null}}},
{"mark":{"type":"text","fontSize":30,"baseline":"alphabetic","dy":6},"encoding":{"y":{"field":"h","type":"quantitative"},"text":{"field":"k"}}}]}]}]},
{"bounds":"flush","vconcat":[{"width":1,"height":2191,"data":{"name":"n"},"mark":"point"},{"bounds":"flush","hconcat":[{"width":159,"height":1,"data":{"name":"n"},"mark":"point"},
{"width":385,"height":205,"data":{"name":"bf"},"encoding":{"x":{"field":"d","type":"nominal","sort":null,"title":null,"scale":{"paddingInner":0,"paddingOuter":0},"axis":{"labelPadding":8}},"xOffset":{"field":"s","type":"nominal","sort":null}},"layer":[
{"mark":"rule","encoding":{"y":{"field":"h","type":"quantitative"},"y2":{"field":"v"}}},
{"mark":{"type":"tick","size":11},"encoding":{"y":{"field":"h","type":"quantitative"}}},
{"mark":{"type":"bar","strokeWidth":1.5},"encoding":{"y":{"field":"v","type":"quantitative","stack":null,"scale":{"domain":[0,1]},"axis":{"values":[0,0.5,1],"format":".1f","title":"Protein/β-actin","titleX":-81,"titleY":104,"labelPadding":5}},"fill":{"field":"s","type":"nominal","title":null,"scale":{"domain":["ezrin","p-ezrin"],"range":["#fff","#000"]},"legend":{"legendX":177,"legendY":2183.5,"direction":"horizontal","columnPadding":15}},"stroke":{"field":"s","type":"nominal","scale":{"domain":["ezrin","p-ezrin"],"range":["#999","#000"]},"legend":null}}},
{"mark":{"type":"text","fontSize":30,"baseline":"alphabetic","dy":5},"encoding":{"y":{"field":"h","type":"quantitative"},"text":{"field":"k"}}}]}]}]},

{"bounds":"flush","vconcat":[{"width":1,"height":109,"data":{"name":"n"},"mark":"point"},{"bounds":"flush","hconcat":[{"width":1528,"height":1,"data":{"name":"n"},"mark":"point"},
{"width":231,"height":239,"data":{"name":"bc"},"encoding":{"x":{"field":"d","type":"nominal","sort":null,"title":null,"scale":{"paddingInner":0.32,"paddingOuter":0.16},"axis":{"labelPadding":4}}},"layer":[
{"mark":"rule","encoding":{"y":{"field":"h","type":"quantitative"},"y2":{"field":"v"}}},
{"mark":{"type":"tick","size":13},"encoding":{"y":{"field":"h","type":"quantitative"}}},
{"mark":{"type":"bar","color":"#000"},"encoding":{"y":{"field":"v","type":"quantitative","scale":{"domain":[0,60]},"axis":{"values":[0,20,40,60],"title":"p-ezrin+ cell (%)","titleX":-68,"titleY":117,"labelPadding":7,"labelFontSize":23}}}},
{"mark":{"type":"text","fontSize":28,"baseline":"alphabetic","dy":7},"encoding":{"y":{"field":"h","type":"quantitative"},"text":{"field":"k"}}}]}]}]},
{"bounds":"flush","vconcat":[{"width":1,"height":745,"data":{"name":"n"},"mark":"point"},{"bounds":"flush","hconcat":[{"width":1528,"height":1,"data":{"name":"n"},"mark":"point"},
{"width":231,"height":251,"data":{"name":"bd"},"encoding":{"x":{"field":"d","type":"nominal","sort":null,"title":null,"scale":{"paddingInner":0.32,"paddingOuter":0.16},"axis":{"labelPadding":1}}},"layer":[
{"mark":"rule","encoding":{"y":{"field":"h","type":"quantitative"},"y2":{"field":"v"}}},
{"mark":{"type":"tick","size":13},"encoding":{"y":{"field":"h","type":"quantitative"}}},
{"mark":{"type":"bar","color":"#000"},"encoding":{"y":{"field":"v","type":"quantitative","scale":{"domain":[0,60]},"axis":{"values":[0,20,40,60],"title":"p-ezrin+ cell (%)","titleX":-66,"titleY":135,"labelPadding":14,"labelFontSize":23,"tickSize":5}}}},
{"mark":{"type":"text","fontSize":28,"baseline":"alphabetic","dy":7},"encoding":{"y":{"field":"h","type":"quantitative"},"text":{"field":"k"}}}]}]}]},
{"bounds":"flush","vconcat":[{"width":1,"height":1452,"data":{"name":"n"},"mark":"point"},{"bounds":"flush","hconcat":[{"width":1476,"height":1,"data":{"name":"n"},"mark":"point"},
{"width":283,"height":228,"data":{"name":"bg"},"encoding":{"x":{"field":"d","type":"nominal","sort":null,"title":null,"scale":{"paddingInner":0.32,"paddingOuter":0.16},"axis":{"labelPadding":7}}},"layer":[
{"mark":"rule","encoding":{"y":{"field":"h","type":"quantitative"},"y2":{"field":"v"}}},
{"mark":{"type":"tick","size":13},"encoding":{"y":{"field":"h","type":"quantitative"}}},
{"mark":{"type":"bar","color":"#000"},"encoding":{"y":{"field":"v","type":"quantitative","scale":{"domain":[0,80]},"axis":{"values":[0,20,40,60,80],"title":"p-ezrin+ cell (%)","titleX":-68,"titleY":115,"labelPadding":5,"labelFontSize":23}}}},
{"mark":{"type":"text","fontSize":28,"baseline":"alphabetic","dy":7},"encoding":{"y":{"field":"h","type":"quantitative"},"text":{"field":"k"}}}]}]}]},
{"bounds":"flush","vconcat":[{"width":1,"height":2092,"data":{"name":"n"},"mark":"point"},{"bounds":"flush","hconcat":[{"width":1487,"height":1,"data":{"name":"n"},"mark":"point"},
{"width":281,"height":226,"data":{"name":"bh"},"encoding":{"x":{"field":"d","type":"nominal","sort":null,"title":null,"scale":{"paddingInner":0.32,"paddingOuter":0.16},"axis":{"labelPadding":8}}},"layer":[
{"mark":"rule","encoding":{"y":{"field":"h","type":"quantitative"},"y2":{"field":"v"}}},
{"mark":{"type":"tick","size":13},"encoding":{"y":{"field":"h","type":"quantitative"}}},
{"mark":{"type":"bar","color":"#000"},"encoding":{"y":{"field":"v","type":"quantitative","scale":{"domain":[0,80]},"axis":{"values":[0,20,40,60,80],"title":"p-ezrin+ cell (%)","titleX":-70,"titleY":115,"labelPadding":6,"labelFontSize":23,"titleFontSize":39,"tickSize":7}}}},
{"mark":{"type":"text","fontSize":28,"baseline":"alphabetic","dy":7},"encoding":{"y":{"field":"h","type":"quantitative"},"text":{"field":"k"}}}]}]}]},

{"bounds":"flush","vconcat":[{"width":1,"height":438,"data":{"name":"n"},"mark":"point"},{"bounds":"flush","hconcat":[{"width":190,"height":1,"data":{"name":"n"},"mark":"point"},{"width":271,"height":1,"data":{"name":"n"},"mark":"point","encoding":{"x":{"field":"d","type":"nominal","title":"LPS (ug/ml)"}}}]}]},
{"bounds":"flush","vconcat":[{"width":1,"height":1088,"data":{"name":"n"},"mark":"point"},{"bounds":"flush","hconcat":[{"width":204,"height":1,"data":{"name":"n"},"mark":"point"},{"width":269,"height":1,"data":{"name":"n"},"mark":"point","encoding":{"x":{"field":"d","type":"nominal","title":"LPS (ug/ml)"}}}]}]},
{"bounds":"flush","vconcat":[{"width":1,"height":1796,"data":{"name":"n"},"mark":"point"},{"bounds":"flush","hconcat":[{"width":148,"height":1,"data":{"name":"n"},"mark":"point"},{"width":359,"height":1,"data":{"name":"n"},"mark":"point","encoding":{"x":{"field":"d","type":"nominal","title":"Duration of LPS treatment (hrs)"}}}]}]},
{"bounds":"flush","vconcat":[{"width":1,"height":2440,"data":{"name":"n"},"mark":"point"},{"bounds":"flush","hconcat":[{"width":177,"height":1,"data":{"name":"n"},"mark":"point"},{"width":359,"height":1,"data":{"name":"n"},"mark":"point","encoding":{"x":{"field":"d","type":"nominal","title":"Duration of LPS treatment (hrs)"}}}]}]},
{"bounds":"flush","vconcat":[{"width":1,"height":386,"data":{"name":"n"},"mark":"point"},{"bounds":"flush","hconcat":[{"width":1546,"height":1,"data":{"name":"n"},"mark":"point"},{"width":203,"height":1,"data":{"name":"n"},"mark":"point","encoding":{"x":{"field":"d","type":"nominal","title":"LPS (ug/ml)"}}}]}]},
{"bounds":"flush","vconcat":[{"width":1,"height":1033,"data":{"name":"n"},"mark":"point"},{"bounds":"flush","hconcat":[{"width":1544,"height":1,"data":{"name":"n"},"mark":"point"},{"width":205,"height":1,"data":{"name":"n"},"mark":"point","encoding":{"x":{"field":"d","type":"nominal","title":"LPS (ug/ml)"}}}]}]},
{"bounds":"flush","vconcat":[{"width":1,"height":1723,"data":{"name":"n"},"mark":"point"},{"bounds":"flush","hconcat":[{"width":1491,"height":1,"data":{"name":"n"},"mark":"point"},{"width":260,"height":1,"data":{"name":"n"},"mark":"point","encoding":{"x":{"field":"d","type":"nominal","title":["Duration of LPS","treatment (hrs)"]}}}]}]},
{"bounds":"flush","vconcat":[{"width":1,"height":2361,"data":{"name":"n"},"mark":"point"},{"bounds":"flush","hconcat":[{"width":1502,"height":1,"data":{"name":"n"},"mark":"point"},{"width":259,"height":1,"data":{"name":"n"},"mark":"point","encoding":{"x":{"field":"d","type":"nominal","title":["Duration of LPS","treatment (hrs)"]}}}]}]},

{"bounds":"flush","vconcat":[{"width":1,"height":1796,"data":{"name":"n"},"mark":"point"},{"bounds":"flush","hconcat":[{"width":132,"height":1,"data":{"name":"n"},"mark":"point"},{"width":401,"height":1,"data":{"name":"dt"},"mark":{"type":"text","dy":-20},"encoding":{"x":{"field":"d","type":"nominal","sort":null,"scale":{"type":"point","padding":0},"axis":{"domain":false,"title":null}},"text":{"field":"d"}}}]}]},

{"bounds":"flush","vconcat":[{"width":1,"height":387,"data":{"name":"n"},"mark":"point"},{"bounds":"flush","hconcat":[{"width":716,"height":1,"data":{"name":"n"},"mark":"point"},{"width":591,"height":1,"data":{"name":"dl"},"mark":{"type":"text","dy":-22},"encoding":{"x":{"field":"d","type":"nominal","sort":null,"title":"LPS (ug/ml)","scale":{"type":"point","padding":0.15}},"text":{"field":"d"}}}]}]},
{"bounds":"flush","vconcat":[{"width":1,"height":1033,"data":{"name":"n"},"mark":"point"},{"bounds":"flush","hconcat":[{"width":712,"height":1,"data":{"name":"n"},"mark":"point"},{"width":595,"height":1,"data":{"name":"dl"},"mark":{"type":"text","dy":-22},"encoding":{"x":{"field":"d","type":"nominal","sort":null,"title":"LPS (ug/ml)","scale":{"type":"point","padding":0.117}},"text":{"field":"d"}}}]}]},
{"bounds":"flush","vconcat":[{"width":1,"height":1694,"data":{"name":"n"},"mark":"point"},{"bounds":"flush","hconcat":[{"width":730,"height":1,"data":{"name":"n"},"mark":"point"},{"width":572,"height":1,"data":{"name":"dt"},"mark":{"type":"text","dy":-22},"encoding":{"x":{"field":"d","type":"nominal","sort":null,"title":"Duration of LPS treatment (hrs)","scale":{"type":"point","padding":0.26}},"text":{"field":"d"}}}]}]},
{"bounds":"flush","vconcat":[{"width":1,"height":2335,"data":{"name":"n"},"mark":"point"},{"bounds":"flush","hconcat":[{"width":724,"height":1,"data":{"name":"n"},"mark":"point"},{"width":573,"height":1,"data":{"name":"dt"},"mark":{"type":"text","dy":-24},"encoding":{"x":{"field":"d","type":"nominal","sort":null,"title":"Duration of LPS treatment (hrs)","scale":{"type":"point","padding":0.2}},"text":{"field":"d"}}}]}]},

{"bounds":"flush","vconcat":[{"width":1,"height":180,"data":{"name":"n"},"mark":"point"},{"bounds":"flush","hconcat":[{"width":662,"height":1,"data":{"name":"n"},"mark":"point"},
{"bounds":"flush","data":{"name":"hc"},"facet":{"column":{"field":"d","type":"nominal","sort":["0","0.1","1","10"],"header":null}},"spacing":22,"resolve":{"axis":{"y":"independent"}},"spec":{"width":158,"height":147,"view":{"stroke":"#777"},"mark":{"type":"area","color":"#ff8080","interpolate":"monotone"},"encoding":{"x":{"field":"x","type":"quantitative","title":null,"scale":{"type":"log","domain":[1,1000]},"axis":{"values":[1,10,100,1000],"labelFontSize":9,"labelExpr":"datum.value==1?'10⁰':datum.value==10?'10¹':datum.value==100?'10²':'10³'"}},"y":{"field":"y","type":"quantitative","stack":null,"title":null,"scale":{"domain":[0,1950]},"axis":{"values":[0,200,600,1000,1400,1800],"format":"d","labelAngle":270,"labelFontSize":8,"labelColor":"#444","labelPadding":1,"tickSize":2,"tickWidth":1,"tickColor":"#333","domainColor":"#333","domainWidth":1}}}}}
]}]},
{"bounds":"flush","vconcat":[{"width":1,"height":819,"data":{"name":"n"},"mark":"point"},{"bounds":"flush","hconcat":[{"width":654,"height":1,"data":{"name":"n"},"mark":"point"},
{"bounds":"flush","data":{"name":"hd"},"facet":{"column":{"field":"d","type":"nominal","sort":["0","0.1","1","10"],"header":null}},"spacing":21.5,"resolve":{"axis":{"y":"independent"}},"spec":{"width":160,"height":157,"view":{"stroke":"#777"},"mark":{"type":"area","color":"#ff8080","interpolate":"monotone"},"encoding":{"x":{"field":"x","type":"quantitative","title":null,"scale":{"type":"log","domain":[1,1000]},"axis":{"values":[1,10,100,1000],"labelFontSize":9,"labelExpr":"datum.value==1?'10⁰':datum.value==10?'10¹':datum.value==100?'10²':'10³'"}},"y":{"field":"y","type":"quantitative","stack":null,"title":null,"scale":{"domain":[0,1950]},"axis":{"values":[0,200,600,1000,1400,1800],"format":"d","labelAngle":270,"labelFontSize":8,"labelColor":"#444","labelPadding":1,"tickSize":2,"tickWidth":1,"tickColor":"#333","domainColor":"#333","domainWidth":1}}}}}
]}]},
{"bounds":"flush","vconcat":[{"width":1,"height":1558,"data":{"name":"n"},"mark":"point"},{"bounds":"flush","hconcat":[{"width":704,"height":1,"data":{"name":"n"},"mark":"point"},
{"bounds":"flush","data":{"name":"hg"},"facet":{"column":{"field":"d","type":"nominal","sort":["0","0.5","1","3","6","12"],"header":null}},"spacing":10.4,"resolve":{"axis":{"y":"independent"}},"spec":{"width":94,"height":85,"view":{"stroke":"#777"},"mark":{"type":"area","color":"#ff8080","interpolate":"monotone"},"encoding":{"x":{"field":"x","type":"quantitative","title":null,"scale":{"type":"log","domain":[1,1000]},"axis":{"values":[1,10,100,1000],"labelFontSize":5,"labelPadding":1,"tickSize":1,"labelExpr":"datum.value==1?'10⁰':datum.value==10?'10¹':datum.value==100?'10²':'10³'"}},"y":{"field":"y","type":"quantitative","stack":null,"title":null,"scale":{"domain":[0,1950]},"axis":{"values":[0,200,600,1000,1400,1800],"format":"d","labelAngle":270,"labelFontSize":5,"labelColor":"#444","labelPadding":1,"tickSize":1,"tickWidth":1,"tickColor":"#333","domainColor":"#333","domainWidth":1}}}}}
]}]},
{"bounds":"flush","vconcat":[{"width":1,"height":2191,"data":{"name":"n"},"mark":"point"},{"bounds":"flush","hconcat":[{"width":696,"height":1,"data":{"name":"n"},"mark":"point"},
{"bounds":"flush","data":{"name":"hh"},"facet":{"column":{"field":"d","type":"nominal","sort":["0","0.5","1","3","6","12"],"header":null}},"spacing":10,"resolve":{"axis":{"y":"independent"}},"spec":{"width":94.5,"height":92,"view":{"stroke":"#777"},"mark":{"type":"area","color":"#ff8080","interpolate":"monotone"},"encoding":{"x":{"field":"x","type":"quantitative","title":null,"scale":{"type":"log","domain":[1,1000]},"axis":{"values":[1,10,100,1000],"labelFontSize":5,"labelPadding":1,"tickSize":1,"labelExpr":"datum.value==1?'10⁰':datum.value==10?'10¹':datum.value==100?'10²':'10³'"}},"y":{"field":"y","type":"quantitative","stack":null,"title":null,"scale":{"domain":[0,1950]},"axis":{"values":[0,200,600,1000,1400,1800],"format":"d","labelAngle":270,"labelFontSize":5,"labelColor":"#444","labelPadding":1,"tickSize":1,"tickWidth":1,"tickColor":"#333","domainColor":"#333","domainWidth":1}}}}}
]}]}
]}
